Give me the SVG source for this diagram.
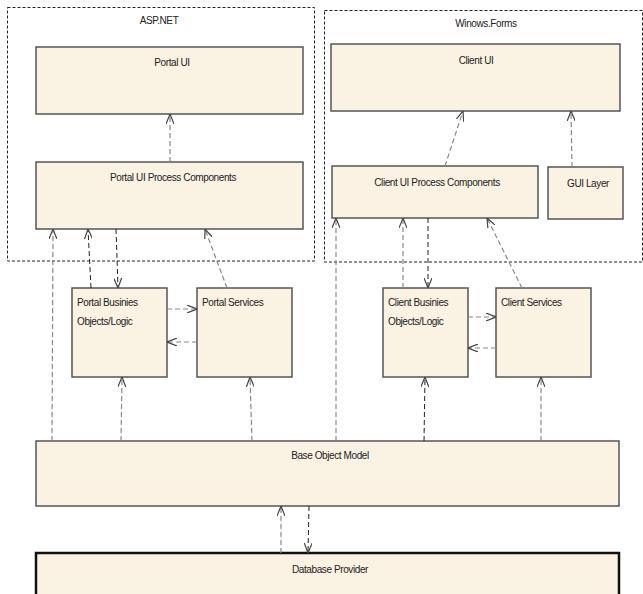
<svg xmlns="http://www.w3.org/2000/svg" width="643" height="594" viewBox="0 0 643 594">
<style>
.box{fill:#FAF2E2;stroke:#555;stroke-width:1.5}
.db{fill:#FAF2E2;stroke:#111;stroke-width:2.5}
.cont{fill:none;stroke:#222;stroke-width:1;stroke-dasharray:3 2}
.t{font-family:"Liberation Sans",Arial,sans-serif;font-size:10px;fill:#222;letter-spacing:-0.4px}
.c{text-anchor:middle}
.ln{fill:none;stroke:#888;stroke-width:1.2;stroke-dasharray:5 3;marker-end:url(#ah)}
.lk{fill:none;stroke:#222;stroke-width:1;stroke-dasharray:5 3;marker-end:url(#ah)}
</style>
<defs>
<marker id="ah" viewBox="0 0 10 8" refX="10" refY="4" markerWidth="10" markerHeight="8" markerUnits="userSpaceOnUse" orient="auto">
<path d="M0,0 L10,4 L0,8" fill="none" stroke="#444" stroke-width="1.2" stroke-dasharray="none"/>
</marker>
</defs>
<rect width="643" height="594" fill="#fff"/>
<g id="aspnet">
<rect class="cont" x="7.5" y="7.5" width="307" height="253.5"/>
<text class="t c" x="159" y="24">ASP.NET</text>
</g>
<g id="winforms">
<rect class="cont" x="324.5" y="10.5" width="318" height="251.5"/>
<text class="t c" x="486" y="27">Winows.Forms</text>
</g>
<g id="portal-ui">
<rect class="box" x="36" y="47" width="267" height="67"/>
<text class="t c" x="172" y="66">Portal UI</text>
</g>
<g id="portal-ui-process">
<rect class="box" x="36" y="162" width="267" height="67"/>
<text class="t c" x="173" y="181">Portal UI Process Components</text>
</g>
<g id="client-ui">
<rect class="box" x="331" y="44" width="289" height="67"/>
<text class="t c" x="476" y="64">Client UI</text>
</g>
<g id="client-ui-process">
<rect class="box" x="332" y="166" width="206" height="52"/>
<text class="t c" x="437" y="186">Client UI Process Components</text>
</g>
<g id="gui-layer">
<rect class="box" x="548" y="167" width="75" height="52"/>
<text class="t c" x="588" y="187">GUI Layer</text>
</g>
<g id="portal-business">
<rect class="box" x="72" y="288" width="95" height="89"/>
<text class="t" x="77" y="306">Portal Businies</text>
<text class="t" x="77" y="325">Objects/Logic</text>
</g>
<g id="portal-services">
<rect class="box" x="197" y="288" width="95" height="89"/>
<text class="t" x="202" y="306">Portal Services</text>
</g>
<g id="client-business">
<rect class="box" x="383" y="288" width="85" height="89"/>
<text class="t" x="388" y="306">Client Businies</text>
<text class="t" x="388" y="325">Objects/Logic</text>
</g>
<g id="client-services">
<rect class="box" x="496" y="288" width="95" height="89"/>
<text class="t" x="501" y="306">Client Services</text>
</g>
<g id="base-object-model">
<rect class="box" x="36" y="441" width="583" height="65"/>
<text class="t c" x="330" y="459">Base Object Model</text>
</g>
<g id="database-provider">
<rect class="db" x="36" y="553" width="583" height="60"/>
<text class="t c" x="330" y="573">Database Provider</text>
</g>
<g id="connectors">
<path class="ln" d="M170,162 L170,114"/>
<path class="ln" d="M52,441 L53,229"/>
<path class="lk" d="M91,288 L88,229"/>
<path class="lk" d="M116,229 L118,288"/>
<path class="ln" d="M227,288 L205,229"/>
<path class="ln" d="M167,309 L197,309"/>
<path class="ln" d="M197,342 L167,342"/>
<path class="ln" d="M121,441 L122,377"/>
<path class="ln" d="M252,441 L250,377"/>
<path class="ln" d="M445,166 L463,111"/>
<path class="ln" d="M572,167 L571,111"/>
<path class="ln" d="M336,441 L336,218"/>
<path class="ln" d="M403,288 L403,218"/>
<path class="lk" d="M428,218 L428,288"/>
<path class="ln" d="M522,288 L487,218"/>
<path class="ln" d="M468,317 L496,317"/>
<path class="ln" d="M496,348 L468,348"/>
<path class="lk" d="M424,441 L425,377"/>
<path class="ln" d="M541,441 L541,377"/>
<path class="ln" d="M281,553 L281,506"/>
<path class="lk" d="M309,506 L308,553"/>
</g>
</svg>
